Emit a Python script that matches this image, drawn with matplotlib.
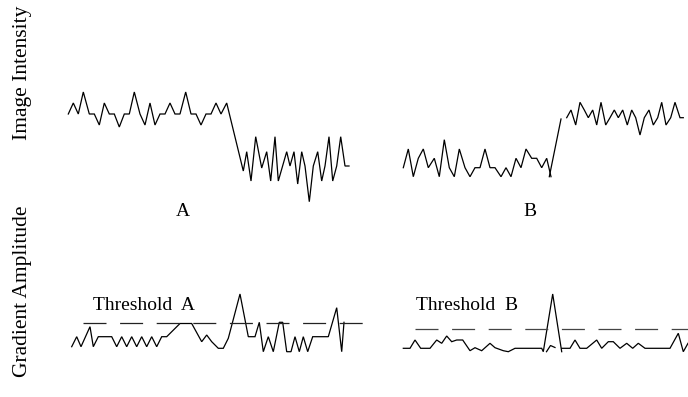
import matplotlib
matplotlib.use("Agg")
import matplotlib.pyplot as plt
import numpy as np

# ---- data (in figure pixel units) ----
# Image intensity, edge A (falling step)
int_a_x = [68.3, 73.3, 78.3, 83.3, 89.3, 94.3, 99.3, 104.3, 109.3, 114.3, 119.3, 124.3,
           129.3, 134.3, 140, 145, 150, 155, 160, 165, 170, 175, 180, 185.7, 191, 196,
           201, 206, 211, 216, 221, 226.7,
           243.3, 246.7, 251, 255.7, 261.7, 266.7, 270.7, 275, 278.3, 286.7, 290, 294,
           297.7, 301.7, 305, 309.3, 313.3, 317.7, 321.7, 325, 329, 332.7, 336.7, 340.7,
           345, 349]
int_a_y = [114, 103, 114, 92, 114, 114, 125, 103, 114, 114, 127, 114,
           114, 92, 114, 125, 103, 125, 114, 114, 103, 114, 114, 92, 114, 114,
           125, 114, 114, 103, 114, 103,
           171, 151.7, 181, 136.7, 168, 151.7, 181, 136.7, 181, 151.7, 166, 151.7,
           184, 151.7, 166, 201.7, 166, 151.7, 181, 166, 136.7, 181, 166, 136.7,
           166, 166]

# Image intensity, edge B (rising step)
int_b1_x = [403.3, 408.3, 413.3, 418.3, 423.3, 428.3, 434.3, 439.3, 444.3, 449.3, 454.3,
            459.3, 465, 470, 475, 480, 485, 490, 495, 501, 506, 511, 516, 521, 526,
            531.7, 536.7, 541.7, 546.7, 551]
int_b1_y = [167.7, 149, 176.7, 158.3, 149, 167.7, 158.3, 176.7, 139.7, 167.7, 176.7,
            149, 167.7, 176.7, 167.7, 167.7, 149, 167.7, 167.7, 176.7, 167.7, 176.7,
            158.3, 167.7, 149, 158.3, 158.3, 167.7, 158.3, 176.7]
int_b2_x = [549.3, 561]
int_b2_y = [176.7, 119]
int_b3_x = [566.7, 571, 575.7, 580, 584.3, 588.3, 592.7, 596.7, 601, 605.7, 610, 614.3,
            618.3, 622.7, 627.3, 631.7, 635.7, 640, 644.3, 649, 653.3, 657.7, 661.7, 666,
            670.7, 675, 680, 683.3]
int_b3_y = [117.7, 110, 125, 102.3, 110, 117.7, 110, 125, 102.3, 125, 117.7, 110,
            117.7, 110, 125, 110, 117.7, 135, 117.7, 110, 125, 117.7, 102.3, 125,
            117.7, 102.3, 117.7, 117.7]

# Gradient amplitude A
grad_a_x = [71.7, 76.7, 81, 85.5, 90, 93.3, 98.3, 111.7, 116.7, 121.7, 126.7, 131.7, 136.7,
            141.7, 146.7, 151.7, 156.7, 161.7, 166.7, 180, 191.7, 201.7, 206.7, 211.7,
            218.3, 223.3, 228.3, 240, 248.3, 255, 259.3, 263.3, 268.3, 273.3, 279.3,
            282.7, 286.7, 291, 295, 299.3, 303.3, 307.7, 312.7, 328.3, 336.7, 341.7, 344]
grad_a_y = [346.7, 336.7, 346.7, 336.7, 326.7, 346.7, 336.7, 336.7, 346.7, 336.7, 346.7,
            336.7, 346.7, 336.7, 346.7, 336.7, 346.7, 336.7, 336.7, 323.5, 323.5, 341.7,
            335, 341.7, 348.3, 348.3, 338.3, 294, 336.7, 336.7, 322.3, 351.7, 336.7,
            351.7, 322.3, 322.3, 351.7, 351.7, 336.7, 351.7, 336.7, 351.7, 336.7,
            336.7, 307.7, 351.7, 322.3]

# Gradient amplitude B
grad_b_x = [403.3, 410, 415, 420.7, 430, 436.7, 441.7, 446.7, 451.7, 456.7, 462.7, 470,
            475, 481.7, 490, 495, 503.3, 508.3, 515, 541.7, 543.3, 552.7, 561.7]
grad_b_y = [348.3, 348.3, 340, 348.3, 348.3, 340, 343.3, 336, 341.7, 340, 340, 350.7,
            347.7, 350.7, 343.3, 347.7, 350.7, 351.7, 348.3, 348.3, 351.7, 294, 351.7]
grad_b2_x = [546.5, 550.5, 555]
grad_b2_y = [351.7, 345.5, 347.5]
grad_b3_x = [561.7, 570, 575, 580, 586.7, 596.7, 601.7, 608.3, 613.3, 620, 626.7,
             632.7, 638.3, 645, 670, 678.3, 683.3, 688]
grad_b3_y = [348.3, 348.3, 340, 348.3, 348.3, 340, 348.3, 341.7, 341.7, 348.3, 343.3,
             348.3, 343.3, 348.3, 348.3, 333.3, 351.7, 343.3]

# threshold levels and extents
thr_a_y, thr_a_x0, thr_a_x1 = 322.7, 83.3, 365
thr_b_y, thr_b_x0, thr_b_x1 = 329, 415, 688

# ---- figure ----
W, H = 688, 397
fig = plt.figure(figsize=(W / 100, H / 100), dpi=100)
ax = fig.add_axes([0, 0, 1, 1])
ax.set_xlim(0, W)
ax.set_ylim(H, 0)
ax.axis("off")

serif = ["Liberation Serif", "DejaVu Serif"]
lw = 0.9
col = "black"

for xs, ys in [(int_a_x, int_a_y), (int_b1_x, int_b1_y), (int_b2_x, int_b2_y),
               (int_b3_x, int_b3_y), (grad_a_x, grad_a_y), (grad_b_x, grad_b_y),
               (grad_b2_x, grad_b2_y), (grad_b3_x, grad_b3_y)]:
    ax.plot(xs, ys, color=col, lw=lw, solid_joinstyle="miter")

# dashed thresholds: dash ~23 px, gap ~13.5 px  (1 px = 0.72 pt)
dash = (0, (23 * 0.72 / lw, 13.6 * 0.72 / lw))
ax.plot([thr_a_x0, thr_a_x1], [thr_a_y, thr_a_y], color="#222222", lw=lw, linestyle=dash)
ax.plot([thr_b_x0, thr_b_x1], [thr_b_y, thr_b_y], color="#444444", lw=lw, linestyle=dash)

# texts
ax.text(93, 306, "Threshold  A", fontsize=14, family=serif, va="center", ha="left")
ax.text(416, 306, "Threshold  B", fontsize=14, family=serif, va="center", ha="left")
ax.text(183, 212, "A", fontsize=14, family=serif, va="center", ha="center")
ax.text(530, 212, "B", fontsize=14, family=serif, va="center", ha="center")
ax.text(23, 73, "Image Intensity", fontsize=15.5, family=serif, rotation=90,
        va="center", ha="center")
ax.text(23, 291, "Gradient Amplitude", fontsize=15.5, family=serif, rotation=90,
        va="center", ha="center")

fig.savefig("out.png", dpi=100)
